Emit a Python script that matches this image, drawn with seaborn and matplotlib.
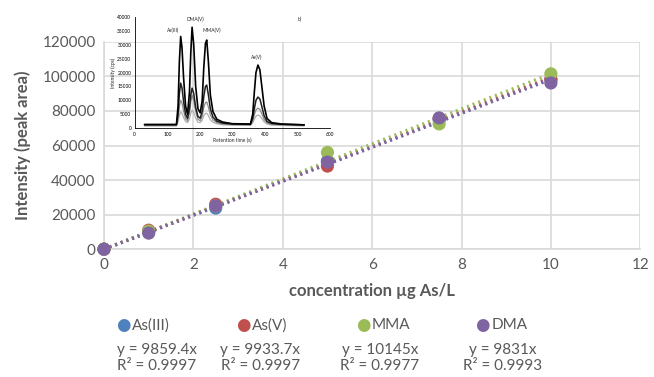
import numpy as np
import pandas as pd
import matplotlib
matplotlib.use("Agg")
import matplotlib.pyplot as plt
import seaborn as sns

# calibration data
conc = [0, 1, 2.5, 5, 7.5, 10]
as3 = [0, 10000, 23800, 51000, 75000, 98000]
as5 = [0, 11000, 26000, 48100, 75500, 98500]
mma = [0, 10500, 25000, 56000, 72500, 101500]
dma = [0, 9300, 25000, 50400, 76000, 96200]

species = ["As(III)", "As(V)", "MMA", "DMA"]
slopes = [9859.4, 9933.7, 10145, 9831]
eq_text = ["y = 9859.4x", "y = 9933.7x", "y = 10145x", "y = 9831x"]
r2_text = ["R² = 0.9997", "R² = 0.9997", "R² = 0.9977", "R² = 0.9993"]
colors = ["#4F81BD", "#C0504D", "#9BBB59", "#8064A2"]

# inset chromatogram, sparse points
rt = [30, 128, 133, 137, 141, 145, 150, 156, 162, 168, 172, 176, 181, 187, 194,
      201, 207, 212, 217, 221, 226, 232, 240, 252, 270, 300, 355, 362, 367, 372,
      378, 384, 390, 397, 406, 420, 450, 520]
trace1 = [1300, 1300, 8000, 24000, 33000, 29000, 18000, 8000, 5000, 13000, 27000,
          36300, 30000, 15000, 7000, 5500, 10000, 22000, 30500, 31700, 24000, 12000,
          6000, 3200, 2200, 1600, 1500, 5000, 13000, 20000, 22700, 21000, 15000, 8000,
          3500, 2000, 1500, 1200]
trace2 = [1300, 1300, 5000, 12500, 16200, 14500, 9500, 5000, 3500, 7000, 12000,
          14400, 12500, 7500, 4200, 3600, 6000, 11500, 15000, 15500, 12000, 7000,
          4000, 2500, 1800, 1500, 1400, 3500, 7000, 10000, 11200, 10500, 7800, 4500,
          2400, 1700, 1400, 1200]
trace3 = [1000, 1000, 3500, 8000, 10000, 9000, 6200, 3500, 2600, 5500, 9500,
          11900, 10000, 6000, 3200, 2700, 4200, 7500, 9200, 9400, 7600, 4800,
          3000, 2000, 1500, 1300, 1200, 2600, 4800, 6600, 7200, 6800, 5200, 3200,
          1900, 1400, 1200, 1000]
trace4 = [800, 800, 2200, 4600, 5800, 5300, 3800, 2400, 2000, 3200, 5300,
          6500, 5600, 3600, 2200, 2000, 2800, 4500, 5300, 5400, 4500, 3000,
          2100, 1600, 1200, 1100, 1000, 1900, 3200, 4300, 4700, 4400, 3500, 2300,
          1500, 1100, 1000, 800]

df = pd.DataFrame({
    "conc": conc * 4,
    "area": as3 + as5 + mma + dma,
    "species": np.repeat(species, len(conc)),
})

sns.set_theme(style="white")
plt.rcParams["font.family"] = ["Lato", "DejaVu Sans"]

fig = plt.figure(figsize=(6.54, 3.77), dpi=100)
ax = fig.add_axes([0.159, 0.339, 0.820, 0.550])

grey = "#595959"
# trend lines through origin
for sp, m, c in zip(species, slopes, colors):
    xs = np.array([0, 10])
    ax.plot(xs, m * xs, color=c, lw=2.4, ls=(0, (0.6, 1.2)), zorder=2)

sns.scatterplot(data=df, x="conc", y="area", hue="species", palette=colors,
                s=90, edgecolor="none", legend=False, ax=ax, zorder=3, clip_on=False)

ax.set_xlim(0, 12)
ax.set_ylim(0, 120000)
ax.set_xticks(range(0, 13, 2))
ax.set_yticks(range(0, 120001, 20000))
ax.grid(True, color="#D9D9D9", lw=1.2)
for s in ["top", "right"]:
    ax.spines[s].set_visible(False)
for s in ["left", "bottom"]:
    ax.spines[s].set_color("#D9D9D9")
    ax.spines[s].set_linewidth(1.2)
ax.tick_params(colors=grey, labelsize=11, length=0, pad=6)
ax.set_xlabel("concentration µg As/L", fontsize=12, fontweight="bold", color=grey, labelpad=8)
ax.set_ylabel("Intensity (peak area)", fontsize=12, fontweight="bold", color=grey, labelpad=8)

# legend row and equations
leg_x = [0.188, 0.372, 0.555, 0.738]
eq_x = [0.240, 0.398, 0.581, 0.769]
for i in range(4):
    fig.text(leg_x[i], 0.137, "●", color=colors[i], fontsize=12, ha="center", va="center",
             family=["DejaVu Sans"])
    fig.text(leg_x[i] + 0.013, 0.137, species[i], color=grey, fontsize=11, ha="left", va="center")
    fig.text(eq_x[i], 0.072, eq_text[i], color=grey, fontsize=11, ha="center", va="center")
    fig.text(eq_x[i], 0.030, r2_text[i], color=grey, fontsize=11, ha="center", va="center")

# inset chromatogram
ins = fig.add_axes([0.206, 0.660, 0.299, 0.295])
ins.patch.set_alpha(0)
for tr, c, w in zip([trace4, trace3, trace2, trace1],
                    ["#B0B0B0", "#8A8A8A", "#202020", "#000000"],
                    [0.9, 0.9, 1.1, 1.2]):
    ins.plot(rt, tr, color=c, lw=w)
ins.set_xlim(0, 600)
ins.set_ylim(0, 40000)
ins.set_xticks(range(0, 601, 100))
ins.set_yticks(range(0, 40001, 5000))
ins.tick_params(labelsize=3.5, length=1.5, width=0.5, pad=1, colors="black")
for s in ["top", "right"]:
    ins.spines[s].set_visible(False)
for s in ["left", "bottom"]:
    ins.spines[s].set_color("black")
    ins.spines[s].set_linewidth(0.6)
ins.set_xlabel("Retention time (s)", fontsize=3.5, labelpad=1)
ins.set_ylabel("Intensity (cps)", fontsize=3.5, labelpad=1)
ins.text(100, 34500, "As(III)", fontsize=3.5)
ins.text(160, 38500, "DMA(V)", fontsize=3.5)
ins.text(208, 34500, "MMA(V)", fontsize=3.5)
ins.text(358, 25000, "As(V)", fontsize=3.5)
ins.text(500, 38500, "b)", fontsize=3.5)

fig.savefig("out.png", dpi=100)
